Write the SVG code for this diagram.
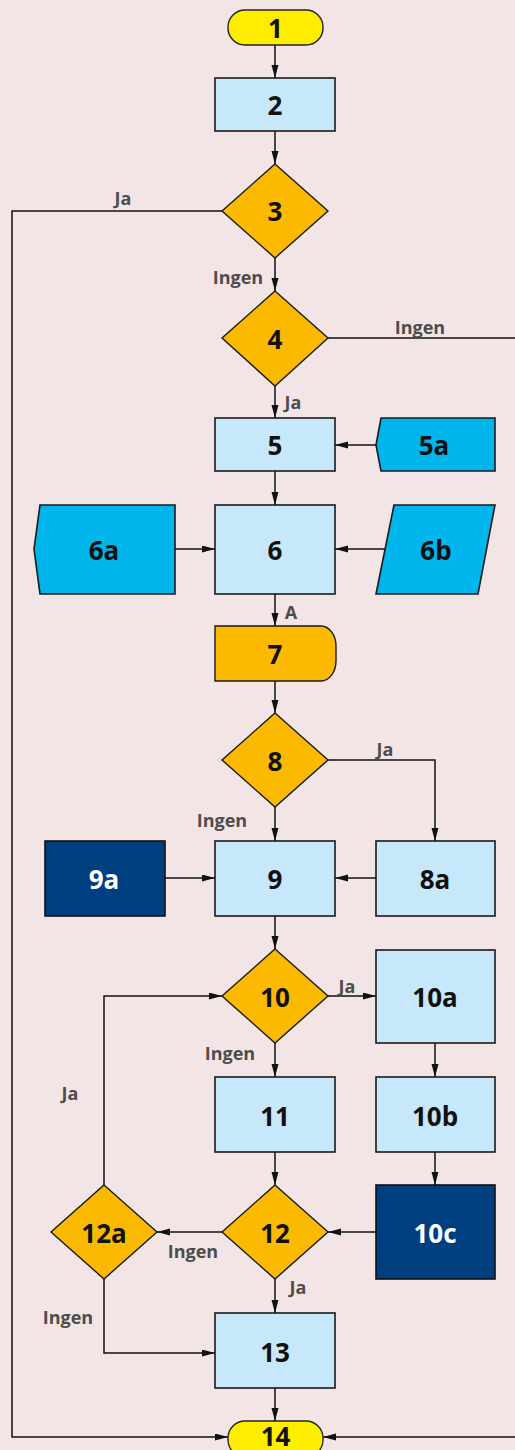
<svg xmlns="http://www.w3.org/2000/svg" width="515" height="1450" viewBox="0 0 515 1450">
<defs>
<marker id="ah" markerUnits="userSpaceOnUse" markerWidth="14" markerHeight="8" refX="13" refY="3.5" orient="auto">
<path d="M0,0 L13,3.5 L0,7 z" fill="#111"/>
</marker>
<style>
.bg{fill:#F3E5E5}
.term{fill:#FFED00;stroke:#222;stroke-width:1.4}
.proc{fill:#C7E7FA;stroke:#1a1a1a;stroke-width:1.6}
.dec{fill:#FBBA00;stroke:#1a1a1a;stroke-width:1.4}
.data{fill:#00B5EC;stroke:#1a1a1a;stroke-width:1.6}
.dark{fill:#003F7F;stroke:#111;stroke-width:1.6}
.t{font-family:"Open Sans","Liberation Sans",sans-serif;font-weight:700;font-size:26px;fill:#111;text-anchor:middle;dominant-baseline:central}
.tw{fill:#fff}
.lbl{font-family:"Open Sans","Liberation Sans",sans-serif;font-weight:700;font-size:18px;fill:#4D4D4D;text-anchor:middle;dominant-baseline:central}
.c{fill:none;stroke:#111;stroke-width:1.5}
.ca{fill:none;stroke:#111;stroke-width:1.5;marker-end:url(#ah)}
</style>
</defs>
<rect class="bg" x="0" y="0" width="515" height="1450"/>

<g id="connectors">
<path class="ca" d="M275,45 V78"/>
<path class="ca" d="M275,131 V164"/>
<path class="ca" d="M275,258 V291"/>
<path class="ca" d="M222,211 H12 V1437 H228"/>
<path class="ca" d="M328,338 H518 V1437 H323"/>
<path class="ca" d="M275,386 V418"/>
<path class="ca" d="M376,445 H335"/>
<path class="ca" d="M275,471 V505"/>
<path class="ca" d="M175,549 H215"/>
<path class="ca" d="M385,549 H335"/>
<path class="ca" d="M275,594 V626"/>
<path class="ca" d="M275,681 V713"/>
<path class="ca" d="M275,807 V841"/>
<path class="ca" d="M328,760 H435 V841"/>
<path class="ca" d="M165,878 H215"/>
<path class="ca" d="M376,878 H335"/>
<path class="ca" d="M275,916 V949"/>
<path class="ca" d="M328,996 H376"/>
<path class="ca" d="M275,1043 V1077"/>
<path class="ca" d="M435,1043 V1077"/>
<path class="ca" d="M435,1152 V1185"/>
<path class="ca" d="M275,1152 V1185"/>
<path class="ca" d="M376,1232 H328"/>
<path class="ca" d="M222,1232 H157"/>
<path class="ca" d="M104,1185 V996 H222"/>
<path class="ca" d="M104,1279 V1353 H215"/>
<path class="ca" d="M275,1279 V1313"/>
<path class="ca" d="M275,1388 V1421"/>
<text class="lbl" x="123" y="198">Ja</text>
<text class="lbl" x="238" y="277">Ingen</text>
<text class="lbl" x="420" y="327">Ingen</text>
<text class="lbl" x="293" y="402">Ja</text>
<text class="lbl" x="291" y="612">A</text>
<text class="lbl" x="385" y="749">Ja</text>
<text class="lbl" x="222" y="820">Ingen</text>
<text class="lbl" x="347" y="986">Ja</text>
<text class="lbl" x="230" y="1053">Ingen</text>
<text class="lbl" x="70" y="1093">Ja</text>
<text class="lbl" x="193" y="1251">Ingen</text>
<text class="lbl" x="298" y="1287">Ja</text>
<text class="lbl" x="68" y="1317">Ingen</text>
</g>

<g id="n1"><rect class="term" x="228" y="10" width="95" height="35" rx="17" ry="17"/><text class="t" x="275.5" y="28">1</text></g>
<g id="n2"><rect class="proc" x="215" y="78" width="120" height="53"/><text class="t" x="275" y="105">2</text></g>
<g id="n3"><polygon class="dec" points="275,164 328,211 275,258 222,211"/><text class="t" x="275" y="211">3</text></g>
<g id="n4"><polygon class="dec" points="275,291 328,338 275,386 222,338"/><text class="t" x="275" y="339">4</text></g>
<g id="n5"><rect class="proc" x="215" y="418" width="120" height="53"/><text class="t" x="275" y="445">5</text></g>
<g id="n5a"><polygon class="data" points="381,418 495,418 495,471 381,471 376,445"/><text class="t" x="434" y="445">5a</text></g>
<g id="n6"><rect class="proc" x="215" y="505" width="120" height="89"/><text class="t" x="275" y="550">6</text></g>
<g id="n6a"><polygon class="data" points="40,505 175,505 175,594 40,594 34,549"/><text class="t" x="104" y="550">6a</text></g>
<g id="n6b"><polygon class="data" points="394,505 495,505 478,594 376,594"/><text class="t" x="436" y="550">6b</text></g>
<g id="n7"><path class="dec" d="M215,626 H321 A15,20 0 0 1 336,646 V661 A15,20 0 0 1 321,681 H215 Z"/><text class="t" x="275" y="654">7</text></g>
<g id="n8"><polygon class="dec" points="275,713 328,760 275,807 222,760"/><text class="t" x="275" y="761">8</text></g>
<g id="n8a"><rect class="proc" x="376" y="841" width="119" height="75"/><text class="t" x="435" y="879">8a</text></g>
<g id="n9"><rect class="proc" x="215" y="841" width="120" height="75"/><text class="t" x="275" y="879">9</text></g>
<g id="n9a"><rect class="dark" x="45" y="841" width="120" height="75"/><text class="t tw" x="104" y="879">9a</text></g>
<g id="n10"><polygon class="dec" points="275,949 328,996 275,1043 222,996"/><text class="t" x="275" y="997">10</text></g>
<g id="n10a"><rect class="proc" x="376" y="950" width="119" height="93"/><text class="t" x="435" y="997">10a</text></g>
<g id="n10b"><rect class="proc" x="376" y="1077" width="119" height="75"/><text class="t" x="435" y="1116">10b</text></g>
<g id="n10c"><rect class="dark" x="376" y="1185" width="119" height="94"/><text class="t tw" x="435" y="1233">10c</text></g>
<g id="n11"><rect class="proc" x="215" y="1077" width="120" height="75"/><text class="t" x="275" y="1116">11</text></g>
<g id="n12"><polygon class="dec" points="275,1185 328,1232 275,1279 222,1232"/><text class="t" x="275" y="1233">12</text></g>
<g id="n12a"><polygon class="dec" points="104,1185 157,1232 104,1279 51,1232"/><text class="t" x="104" y="1233">12a</text></g>
<g id="n13"><rect class="proc" x="215" y="1313" width="120" height="75"/><text class="t" x="275" y="1352">13</text></g>
<g id="n14"><rect class="term" x="228" y="1421" width="95" height="36" rx="17" ry="17"/><text class="t" x="275.5" y="1436">14</text></g>
</svg>
